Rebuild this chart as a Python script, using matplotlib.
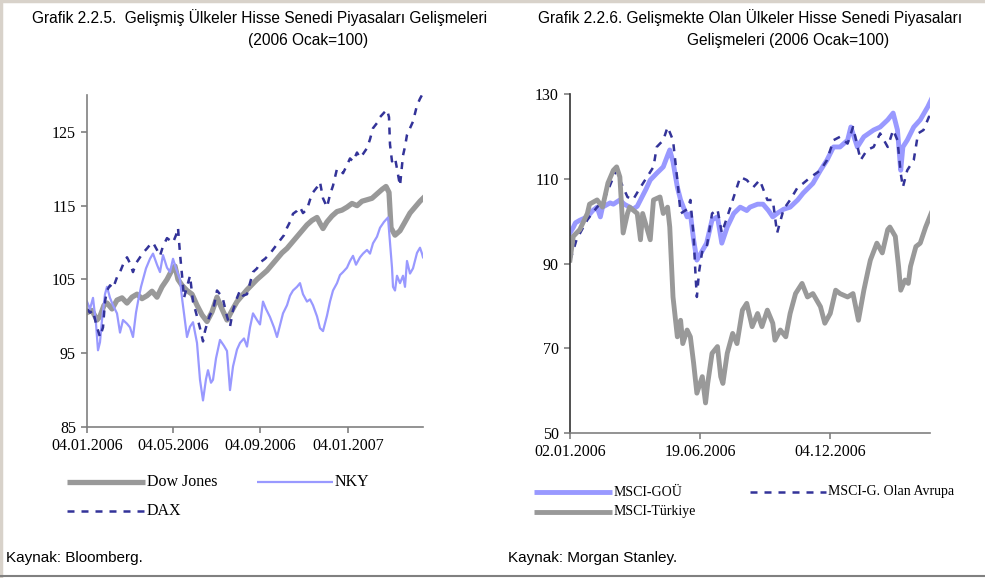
import numpy as np
import pandas as pd
import matplotlib
matplotlib.use("Agg")
import matplotlib.pyplot as plt
from matplotlib.lines import Line2D

# --- sol grafik: gelişmiş ülkeler (iş günü sırası, 04.01.2006 = 0) ---
dow_day = [0, 5, 10, 13, 17, 20, 25, 30, 35, 40, 45, 50, 55, 60, 65, 70, 75, 80, 85, 88,
           91, 95, 100, 105, 110, 115, 120, 125, 130, 135, 140, 145, 150, 155, 160, 165,
           170, 175, 180, 185, 190, 195, 200, 205, 210, 215, 220, 225, 230, 233, 236, 240,
           245, 250, 255, 260, 265, 270, 275, 280, 285, 290, 295, 299, 302, 304, 308, 313,
           318, 323, 328, 333, 336]
dow_val = [100.5, 100.8, 99.5, 100.0, 101.5, 101.8, 101.0, 102.2, 102.5, 101.8, 102.6,
           103.0, 102.4, 102.8, 103.4, 102.6, 104.0, 105.0, 106.3, 106.8, 105.0, 104.2,
           103.5, 103.0, 101.5, 100.2, 99.3, 100.6, 102.6, 101.0, 99.5, 100.8, 102.0,
           102.8, 103.6, 104.3, 105.0, 105.6, 106.2, 107.0, 107.8, 108.6, 109.2, 110.0,
           110.8, 111.6, 112.4, 113.0, 113.4, 112.6, 111.9, 112.8, 113.6, 114.2, 114.4,
           114.8, 115.3, 115.0, 115.6, 115.8, 116.0, 116.6, 117.2, 117.6, 116.8, 112.0,
           111.0, 111.6, 112.8, 114.0, 114.8, 115.6, 116.0]

nky_day = [0, 3, 6, 9, 11, 13, 15, 18, 20, 23, 26, 30, 33, 36, 40, 43, 46, 49, 51, 54,
           56, 59, 63, 66, 70, 73, 76, 80, 83, 86, 89, 93, 95, 97, 100, 103, 106, 110, 113,
           116, 119, 121, 124, 126, 129, 133, 137, 140, 143, 146, 150, 153, 157, 160, 163,
           166, 170, 173, 176, 179, 183, 187, 190, 193, 196, 200, 203, 206, 210, 213, 216,
           220, 223, 226, 230, 233, 236, 240, 243, 246, 250, 253, 256, 260, 263, 266, 269,
           273, 276, 280, 283, 286, 290, 293, 297, 301, 303, 305, 306, 308, 310, 313, 316,
           318, 320, 323, 326, 330, 333, 335, 336]
nky_val = [102.0, 101.0, 102.5, 99.0, 95.4, 96.5, 99.5, 103.0, 104.0, 102.5, 101.5,
           100.4, 97.8, 99.5, 99.0, 98.5, 97.2, 100.5, 102.0, 104.0, 105.0, 106.5, 107.8,
           108.5, 107.0, 106.0, 108.3, 106.6, 106.0, 107.8, 106.5, 105.0, 102.5, 100.4,
           97.2, 98.6, 99.2, 96.4, 91.4, 88.6, 91.5, 92.7, 91.0, 91.4, 94.3, 96.8, 96.0,
           95.3, 90.0, 93.2, 95.5, 96.4, 97.0, 95.9, 98.5, 100.4, 99.5, 98.9, 102.0, 101.0,
           99.9, 98.5, 97.2, 98.8, 100.4, 101.5, 102.8, 103.5, 104.0, 104.5, 103.0, 102.0,
           102.3, 101.5, 100.0, 98.4, 98.0, 100.1, 102.0, 103.5, 104.5, 105.6, 106.0,
           106.6, 107.5, 108.2, 107.0, 108.0, 108.5, 109.0, 108.5, 109.9, 110.8, 112.0,
           112.8, 113.4, 110.0, 106.6, 104.0, 103.5, 105.5, 104.5, 105.5, 104.0, 107.5,
           105.8, 106.5, 108.6, 109.3, 108.5, 108.0]

dax_day = [0, 3, 6, 9, 13, 16, 18, 20, 23, 26, 30, 33, 36, 40, 43, 46, 49, 53, 56, 60,
           63, 66, 70, 73, 76, 80, 83, 86, 89, 91, 93, 95, 97, 100, 103, 106, 109, 113,
           116, 118, 120, 123, 126, 130, 133, 136, 140, 143, 146, 150, 153, 156, 160, 163,
           166, 170, 173, 178, 183, 188, 193, 197, 200, 203, 206, 210, 213, 216, 220, 223,
           226, 230, 233, 236, 240, 243, 246, 250, 253, 256, 260, 263, 266, 270, 273, 276,
           280, 283, 286, 290, 293, 297, 300, 302, 303, 305, 308, 310, 313, 316, 318, 320,
           323, 326, 330, 333, 335]
dax_val = [101.0, 100.5, 100.8, 99.0, 97.2, 98.5, 102.0, 103.5, 104.2, 103.8, 105.3,
           106.0, 107.0, 108.0, 107.2, 106.0, 107.2, 108.0, 108.6, 109.2, 109.7, 110.0,
           109.0, 108.2, 109.5, 110.6, 110.3, 110.0, 111.0, 112.0, 108.5, 105.6, 102.5,
           104.0, 105.5, 102.0, 100.5, 98.4, 96.6, 98.0, 99.0, 100.2, 100.8, 103.5, 103.0,
           102.3, 100.0, 98.6, 100.8, 102.5, 103.5, 102.8, 103.0, 104.5, 106.0, 106.5,
           107.3, 107.8, 108.5, 109.4, 110.3, 111.0, 112.0, 112.8, 113.9, 114.3, 114.8,
           114.0, 114.5, 115.8, 116.8, 117.5, 118.2, 116.0, 114.8, 116.5, 117.7, 120.0,
           119.8, 119.4, 120.5, 121.4, 121.0, 122.2, 121.5, 122.0, 122.8, 124.0, 125.5,
           126.2, 127.0, 127.6, 128.0, 127.0, 123.3, 121.0, 121.5, 120.0, 117.7, 121.8,
           123.0, 124.6, 125.5, 126.4, 128.6, 129.5, 130.0]

left_ticks = ["04.01.2006", "04.05.2006", "04.09.2006", "04.01.2007"]

# --- sağ grafik: gelişmekte olan ülkeler (iş günü sırası, 02.01.2006 = 0) ---
gou_day = [0, 3, 5, 9, 16, 21, 25, 28, 30, 37, 40, 46, 50, 55, 58, 62, 65, 70, 74, 80,
           86, 90, 92, 95, 99, 102, 108, 111, 114, 117, 122, 126, 131, 136, 140, 145, 151,
           157, 163, 166, 173, 178, 183, 187, 192, 197, 203, 210, 215, 224, 231, 237, 243,
           249, 256, 259, 265, 271, 280, 286, 293, 298, 302, 305, 307, 311, 317, 323, 330,
           333]
gou_val = [97.2, 98.5, 99.6, 100.2, 101.0, 102.5, 103.3, 101.0, 103.3, 104.3, 104.0,
           105.0, 104.0, 103.3, 102.8, 103.5, 105.0, 107.5, 109.7, 111.3, 112.8, 115.5,
           116.8, 114.0, 108.0, 105.0, 101.0, 101.8, 95.6, 90.8, 93.0, 94.8, 100.3, 101.0,
           94.8, 98.6, 101.8, 103.3, 102.5, 103.3, 104.0, 104.0, 102.5, 101.0, 102.0,
           102.8, 103.3, 105.0, 106.6, 108.9, 112.0, 114.4, 117.5, 117.5, 119.1, 122.2,
           117.5, 119.9, 121.5, 122.2, 123.9, 125.5, 121.5, 112.0, 117.5, 119.1, 122.2,
           123.9, 127.0, 128.6]

avr_day = [0, 3, 6, 10, 16, 21, 25, 30, 34, 40, 43, 46, 53, 58, 65, 71, 77, 80, 86, 90,
           95, 99, 102, 108, 111, 114, 116, 117, 119, 122, 126, 131, 136, 140, 148, 151,
           157, 163, 169, 175, 182, 187, 191, 197, 203, 210, 215, 222, 231, 237, 243, 249,
           256, 261, 268, 274, 280, 286, 293, 298, 302, 305, 307, 311, 317, 321, 326, 331,
           333]
avr_val = [90.8, 93.0, 95.6, 97.5, 100.3, 102.0, 103.3, 104.5, 106.6, 110.4, 112.0,
           109.7, 105.7, 105.0, 108.0, 110.4, 112.8, 117.5, 119.1, 122.2, 119.1, 109.7,
           101.8, 102.8, 105.0, 96.4, 86.1, 82.1, 88.0, 93.0, 93.7, 101.8, 102.8, 97.2,
           103.3, 105.7, 110.4, 109.7, 108.0, 109.7, 105.0, 105.0, 97.2, 102.8, 105.0,
           108.0, 108.9, 110.4, 112.0, 114.4, 119.1, 119.9, 118.3, 122.2, 114.4, 116.8,
           117.5, 120.7, 117.5, 121.5, 119.1, 111.3, 108.0, 112.0, 114.4, 120.7, 121.5,
           124.6, 125.0]

tur_day = [0, 3, 9, 16, 18, 25, 30, 35, 40, 43, 46, 49, 53, 55, 62, 65, 67, 74, 77, 83,
           86, 90, 92, 95, 99, 102, 104, 108, 111, 114, 117, 122, 125, 127, 131, 136, 139,
           141, 145, 150, 154, 159, 163, 168, 173, 177, 182, 187, 189, 194, 199, 203, 208,
           214, 219, 224, 231, 235, 240, 245, 249, 256, 261, 266, 271, 275, 277, 283, 288,
           293, 295, 300, 303, 305, 309, 312, 314, 319, 323, 328, 333]
tur_val = [90.8, 96.4, 98.0, 101.8, 104.0, 105.0, 103.3, 109.0, 112.0, 112.8, 110.4,
           97.2, 101.8, 103.3, 101.8, 95.6, 101.8, 95.6, 105.0, 105.7, 101.8, 103.3, 98.6,
           82.1, 72.7, 76.6, 71.1, 74.3, 72.7, 66.5, 59.4, 63.3, 57.1, 61.7, 68.8, 70.4,
           63.3, 61.7, 68.8, 73.5, 71.1, 79.0, 80.6, 75.1, 78.2, 75.1, 79.0, 75.9, 71.9,
           74.3, 72.7, 78.2, 82.9, 85.3, 82.1, 82.9, 79.8, 75.9, 78.2, 83.7, 82.9, 82.1,
           82.9, 76.6, 83.7, 88.5, 90.8, 94.8, 92.5, 98.0, 98.6, 96.4, 89.3, 83.7, 86.1,
           85.3, 89.3, 94.0, 94.8, 98.6, 101.8]

right_ticks = ["02.01.2006", "19.06.2006", "04.12.2006"]

GRAY = "#999999"
LBLUE = "#9999ff"
NAVY = "#333399"
SERIF = ["Liberation Serif", "DejaVu Serif"]
SANS = ["Liberation Sans", "DejaVu Sans"]


def tick_positions(start, labels):
    days = pd.bdate_range(start, periods=400)
    return [days.get_loc(pd.Timestamp(pd.to_datetime(s, format="%d.%m.%Y"))) for s in labels]


def style_axes(ax, left_color):
    for s in ["top", "right"]:
        ax.spines[s].set_visible(False)
    ax.spines["left"].set_color(left_color)
    ax.spines["bottom"].set_color("#808080")
    ax.spines["left"].set_linewidth(1.2)
    ax.spines["bottom"].set_linewidth(1.2)
    ax.tick_params(axis="both", direction="out", length=4, width=1.2, color="#808080",
                   labelsize=11.5, pad=4)
    for lab in ax.get_xticklabels() + ax.get_yticklabels():
        lab.set_family(SERIF)


fig = plt.figure(figsize=(9.85, 5.78), dpi=100)

# sol grafik
ax1 = fig.add_axes([87 / 985, 1 - 427 / 578, 336 / 985, 332 / 578])
ax1.plot(dow_day, dow_val, color=GRAY, lw=3.8, solid_joinstyle="round")
ax1.plot(nky_day, nky_val, color=LBLUE, lw=1.6)
ax1.plot(dax_day, dax_val, color=NAVY, lw=1.8, linestyle=(0, (2.8, 2.8)))
ax1.set_xlim(0, 336)
ax1.set_ylim(85, 130)
ax1.set_yticks([85, 95, 105, 115, 125])
ax1.set_xticks(tick_positions("2006-01-04", left_ticks))
ax1.set_xticklabels(left_ticks)
style_axes(ax1, "#808080")

# sağ grafik
ax2 = fig.add_axes([570 / 985, 1 - 433 / 578, 360 / 985, 339 / 578])
ax2.plot(gou_day, gou_val, color=LBLUE, lw=3.5, solid_joinstyle="round")
ax2.plot(avr_day, avr_val, color=NAVY, lw=1.8, linestyle=(0, (2.8, 2.8)))
ax2.plot(tur_day, tur_val, color=GRAY, lw=3.5, solid_joinstyle="round")
ax2.set_xlim(0, 332)
ax2.set_ylim(50, 130)
ax2.set_yticks([50, 70, 90, 110, 130])
ax2.set_xticks(tick_positions("2006-01-02", right_ticks))
ax2.set_xticklabels(right_ticks)
style_axes(ax2, "#333333")

# başlıklar
W, H = 985, 578


def ftext(x, y, s, **kw):
    fig.text(x / W, 1 - y / H, s, va="center", **kw)


ftext(32, 18, "Grafik 2.2.5.  Gelişmiş Ülkeler Hisse Senedi Piyasaları Gelişmeleri",
      family=SANS, fontsize=11.2)
ftext(308, 41, "(2006 Ocak=100)", family=SANS, fontsize=11.2, ha="center")
ftext(538, 18, "Grafik 2.2.6. Gelişmekte Olan Ülkeler Hisse Senedi Piyasaları",
      family=SANS, fontsize=11.2)
ftext(788, 41, "Gelişmeleri (2006 Ocak=100)", family=SANS, fontsize=11.2, ha="center")


# lejantlar
def legend_item(x0, x1, y, label, color, lw, ls="-", size=11.5):
    fig.add_artist(Line2D([x0 / W, x1 / W], [1 - y / H, 1 - y / H], color=color, lw=lw,
                          linestyle=ls, solid_capstyle="butt"))
    ftext(x1 + 2, y, label, family=SERIF, fontsize=size)


legend_item(67, 145, 482, "Dow Jones", GRAY, 3.8)
legend_item(257, 333, 482, "NKY", LBLUE, 1.6)
legend_item(67, 145, 511, "DAX", NAVY, 1.8, (0, (2.8, 2.8)))
legend_item(534, 612, 492, "MSCI-GOÜ", LBLUE, 3.5, size=10)
legend_item(750, 826, 492, "MSCI-G. Olan Avrupa", NAVY, 1.8, (0, (2.8, 2.8)), size=10)
legend_item(534, 612, 512, "MSCI-Türkiye", GRAY, 3.5, size=10)

ftext(6, 558, "Kaynak: Bloomberg.", family=SANS, fontsize=11)
ftext(508, 558, "Kaynak: Morgan Stanley.", family=SANS, fontsize=11)

# çerçeve
fig.add_artist(Line2D([0, 1], [1 - 1 / H, 1 - 1 / H], color="#d8d2ca", lw=2.5))
fig.add_artist(Line2D([1 / W, 1 / W], [0, 1], color="#d8d2ca", lw=2.5))
fig.add_artist(Line2D([0, 1], [1 - 576 / H, 1 - 576 / H], color="#808080", lw=1.5))

fig.savefig("out.png", dpi=100)
